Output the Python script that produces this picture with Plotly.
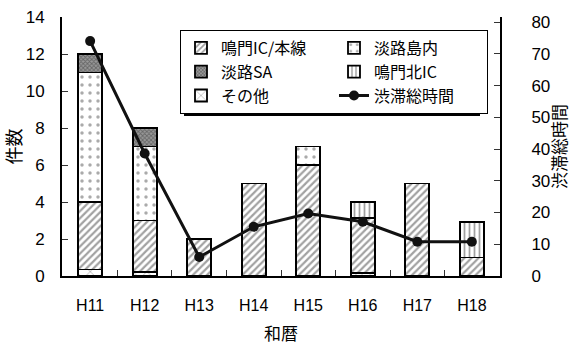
import plotly.graph_objects as go

# 和暦ごとの渋滞件数（要因別）と渋滞総時間
years = ["H11", "H12", "H13", "H14", "H15", "H16", "H17", "H18"]
sonota = [0.35, 0.2, 0, 0, 0, 0.15, 0, 0]          # その他
naruto_ic = [3.65, 2.8, 2, 5, 6, 3.0, 5, 1]         # 鳴門IC/本線
awaji_tounai = [7, 4, 0, 0, 1, 0, 0, 0]             # 淡路島内
naruto_kita = [0, 0, 0, 0, 0, 0.85, 0, 1.9]         # 鳴門北IC
awaji_sa = [1, 1, 0, 0, 0, 0, 0, 0]                 # 淡路SA
total_hours = [74, 38.6, 6, 15.5, 19.7, 17.1, 10.8, 10.8]  # 渋滞総時間

CJK = "Noto Sans CJK JP"
NUM = "Liberation Sans"
OUTLINE = dict(color="black", width=1.8)
BAR_W = 0.44

# plot area in pixels, used to place the legend and its shadow
L, R, T, B = 62, 71, 17, 69
PW, PH = 571 - L - R, 345 - T - B

fig = go.Figure()


def add_bar(name, values, pattern, rank, bg="white"):
    fig.add_trace(go.Bar(
        x=years, y=values, name=name, width=BAR_W, legendrank=rank,
        marker=dict(color=bg, line=OUTLINE, pattern=pattern),
    ))


# stacked from bottom to top
add_bar("その他", sonota,
        dict(shape="x", fgcolor="#555", bgcolor="white", size=10, solidity=0.15), 5)
add_bar("鳴門IC/本線", naruto_ic,
        dict(shape="/", fgcolor="#444", bgcolor="white", size=5, solidity=0.45), 1)
add_bar("淡路島内", awaji_tounai,
        dict(shape=".", fgcolor="#555", bgcolor="white", size=8, solidity=0.15), 2)
add_bar("鳴門北IC", naruto_kita,
        dict(shape="|", fgcolor="#444", bgcolor="white", size=5, solidity=0.35), 4)
add_bar("淡路SA", awaji_sa,
        dict(shape="x", fgcolor="#333", bgcolor="#999", size=3, solidity=0.5), 3,
        bg="#999")

fig.add_trace(go.Scatter(
    x=years, y=total_hours, name="渋滞総時間", yaxis="y2", legendrank=6,
    mode="lines+markers",
    line=dict(color="#111", width=3),
    marker=dict(color="#111", size=10, symbol="circle"),
))

# drop shadow behind the legend box
fig.add_shape(
    type="rect", xref="paper", yref="paper", layer="above",
    x0=(184 - L) / PW, x1=(480 - L) / PW,
    y0=(PH + T - 116) / PH, y1=(PH + T - 34) / PH,
    fillcolor="black", line=dict(width=0),
)

fig.update_layout(
    width=571, height=345,
    margin=dict(l=L, r=R, t=T, b=B, pad=0, autoexpand=False),
    paper_bgcolor="white", plot_bgcolor="white",
    barmode="stack", bargap=0.56,
    font=dict(family=NUM, size=15, color="black"),
    showlegend=True,
    legend=dict(
        orientation="h", x=(180 - L) / PW, y=(PH + T - 30) / PH,
        xanchor="left", yanchor="top",
        bgcolor="white", bordercolor="black", borderwidth=1,
        font=dict(family=CJK, size=16, color="black"),
        entrywidth=108, traceorder="normal", tracegroupgap=0,
    ),
    xaxis=dict(
        type="category", categoryorder="array", categoryarray=years,
        automargin=False,
        showline=True, linecolor="black", linewidth=2,
        ticks="inside", ticklen=6, tickwidth=1, tickcolor="#333",
        tickson="boundaries", showgrid=False, zeroline=False,
        tickfont=dict(family=NUM, size=16), ticklabelstandoff=14,
        title=dict(text="和暦", font=dict(family=CJK, size=17), standoff=20),
    ),
    yaxis=dict(
        range=[0, 14], dtick=2, automargin=False,
        showline=True, linecolor="black", linewidth=2,
        ticks="inside", ticklen=6, tickwidth=1, tickcolor="#333",
        showgrid=False, zeroline=False,
        tickfont=dict(family=NUM, size=17), ticklabelstandoff=12,
        title=dict(text="件数", font=dict(family=CJK, size=18), standoff=6),
    ),
    yaxis2=dict(
        range=[0, 81.6], tickvals=[0, 10, 20, 30, 40, 50, 60, 70, 80],
        overlaying="y", side="right", anchor="x", automargin=False,
        showline=True, linecolor="black", linewidth=2,
        ticks="inside", ticklen=6, tickwidth=1, tickcolor="#333",
        showgrid=False, zeroline=False,
        tickfont=dict(family=NUM, size=17), ticklabelstandoff=26,
        title=dict(text="渋滞総時間", font=dict(family=CJK, size=17), standoff=6),
    ),
)

fig.write_html("out.html")
